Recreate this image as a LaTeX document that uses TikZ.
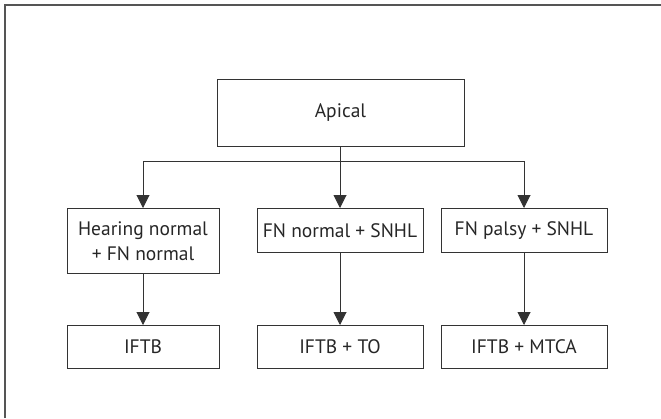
\documentclass[tikz,border=0pt]{standalone}
\usepackage{fontspec}
\setsansfont{PT Sans}
\usetikzlibrary{arrows.meta}
\definecolor{linegray}{HTML}{333333}
\definecolor{framegray}{HTML}{555555}

\begin{document}
\begin{tikzpicture}[x=1pt, y=-1pt,
    box/.style={draw=linegray, line width=1pt, rectangle, anchor=north, align=center,
        font=\sffamily\fontsize{19.5}{25}\selectfont, text=black!85, inner sep=0pt},
    link/.style={draw=linegray, line width=1pt},
    arrow/.style={link, -{Triangle[width=13pt,length=13pt]}}]
            \useasboundingbox (0,0) rectangle (661,418);
            \draw[framegray, line width=1.6pt] (5,418) -- (5,5) -- (661,5);

            \node[box, minimum width=247pt, minimum height=67pt] (apical) at (340.5,79) {Apical};
            \node[box, minimum width=152pt, minimum height=65pt] (hearing) at (143,208) {Hearing normal\\+ FN normal};
            \node[box, minimum width=166pt, minimum height=44pt] (fnnormal) at (340,208) {FN normal + SNHL};
            \node[box, minimum width=166pt, minimum height=44pt] (fnpalsy) at (524,208) {FN palsy + SNHL};
            \node[box, minimum width=152pt, minimum height=43pt] (iftb) at (143,325) {IFTB};
            \node[box, minimum width=166pt, minimum height=43pt] (iftbto) at (340,325) {IFTB + TO};
            \node[box, minimum width=166pt, minimum height=43pt] (iftbmtca) at (524,325) {IFTB + MTCA};

            \coordinate (split) at (340,161);
            \draw[link] (apical.south) -- (apical.south |- split);
            \draw[link] (split -| hearing.north) -- (split -| fnpalsy.north);
            \draw[arrow] (split -| hearing.north) -- (hearing.north);
            \draw[arrow] (split -| fnnormal.north) -- (fnnormal.north);
            \draw[arrow] (split -| fnpalsy.north) -- (fnpalsy.north);

            \draw[arrow] (hearing) -- (iftb);
            \draw[arrow] (fnnormal) -- (iftbto);
            \draw[arrow] (fnpalsy) -- (iftbmtca);
        \end{tikzpicture}
\end{document}
